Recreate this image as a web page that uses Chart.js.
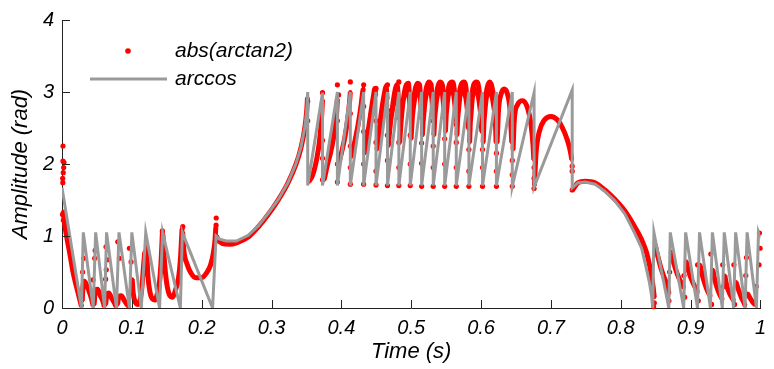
<!DOCTYPE html>
<html><head><meta charset="utf-8">
<script src="https://cdn.jsdelivr.net/npm/chart.js@4"></script>
<style>html,body{margin:0;padding:0;background:#fff;}canvas{display:block;}</style>
</head><body>
<canvas id="c" width="774" height="369"></canvas>
<script>
// ---- tick labels & texts ----
const xTickLabels = ['0','0.1','0.2','0.3','0.4','0.5','0.6','0.7','0.8','0.9','1'];
const yTickLabels = ['0','1','2','3','4'];
const legendLabels = ['abs(arctan2)', 'arccos'];
const xTitle = 'Time (s)';
const yTitle = 'Amplitude (rad)';

// ---- arccos series: [time, amplitude] vertices ----
const arccosStart = [[0,1.67],[0.0279,0],[0.0305,1.05],[0.0447,0],[0.0482,1.05],[0.0610,0],[0.0638,1.05],[0.0780,0],[0.0816,1.05],[0.0965,0],[0.1000,1.05],[0.1135,0],[0.1199,1.05],[0.1397,0],[0.1440,1.05],[0.1695,0],[0.1723,1.05],[0.2156,0],[0.2206,1.0]];
const arccosRise = [[0.2250,0.96],[0.2350,0.93],[0.2496,0.93],[0.2667,1.01],[0.2809,1.14],[0.2950,1.31],[0.3092,1.5],[0.3234,1.74],[0.3348,2.0],[0.3418,2.22],[0.3475,2.5],[0.3504,2.75],[0.3518,3.0]];
const arccosMiddle = [[0.3518,1.70],[0.3730,2.99],[0.3730,1.70],[0.3943,3.0],[0.3943,1.70],[0.4128,3.0],[0.4128,1.70],[0.4319,3.0],[0.4319,1.70],[0.4496,3.0],[0.4496,1.70],[0.4660,3.0],[0.4660,1.70],[0.4823,3.0],[0.4823,1.70],[0.4986,3.0],[0.4986,1.70],[0.5149,3.0],[0.5149,1.70],[0.5315,3.0],[0.5315,1.70],[0.5479,3.0],[0.5479,1.70],[0.5645,3.0],[0.5645,1.70],[0.5826,3.0],[0.5826,1.70],[0.6021,3.0],[0.6021,1.70],[0.6220,3.0],[0.6220,1.70],[0.6447,3.0],[0.6447,1.69],[0.6759,2.99],[0.6759,1.68],[0.7305,3.03],[0.7305,1.67]];
const arccosFall = [[0.7390,1.74],[0.7489,1.75],[0.7631,1.72],[0.7773,1.62],[0.7915,1.49],[0.8057,1.31],[0.8199,1.04],[0.8298,0.83],[0.8355,0.6],[0.8411,0.35],[0.8440,0.18],[0.8458,0]];
const arccosEnd = [[0.8475,1.05],[0.8688,0],[0.8709,1.05],[0.8901,0],[0.8929,1.05],[0.9099,0],[0.9128,1.05],[0.9284,0],[0.9312,1.05],[0.9454,0],[0.9482,1.05],[0.9617,0],[0.9645,1.05],[0.9780,0],[0.9809,1.05],[0.9943,0],[0.9972,1.05],[1.0,0.97]];

// ---- abs(arctan2) series: continuous stretches ----
const atanStart = [[0.0018,1.34],[0.004,1.15],[0.0067,0.99],[0.0113,0.75],[0.016,0.49],[0.023,0.21],[0.028,0.02]];
const atanLowTeeth = [
 [[0.0290,0.1],[0.0300,0.3],[0.0320,0.37],[0.0360,0.3],[0.0400,0.2],[0.0430,0.1],[0.0445,0.03]],
 [[0.0460,0.05],[0.0480,0.25],[0.0510,0.26],[0.0550,0.17],[0.0590,0.08],[0.0605,0.02]],
 [[0.0625,0.05],[0.0645,0.2],[0.0670,0.21],[0.0710,0.14],[0.0750,0.07],[0.0775,0.02]],
 [[0.0795,0.05],[0.0815,0.16],[0.0850,0.17],[0.0890,0.11],[0.0930,0.05],[0.0960,0.02]],
 [[0.1005,0.4],[0.1020,0.2],[0.1050,0.08],[0.1090,0.05],[0.1120,0.12],[0.1145,0.3],[0.1165,0.55],[0.1185,0.78]],
 [[0.1210,0.85],[0.1230,0.45],[0.1260,0.22],[0.1300,0.12],[0.1330,0.11],[0.1365,0.2],[0.1395,0.35],[0.1420,0.67],[0.1438,1.06]],
 [[0.1445,1.02],[0.1465,0.67],[0.1500,0.34],[0.1545,0.17],[0.1580,0.15],[0.1625,0.25],[0.1670,0.43],[0.1695,0.67],[0.1719,1.1]],
 [[0.1728,1.05],[0.1745,0.8],[0.1790,0.61],[0.1844,0.49],[0.1915,0.42],[0.2000,0.42],[0.2071,0.49],[0.2128,0.6],[0.2170,0.78],[0.2191,0.94],[0.2202,1.12]]
];
const atanRise = [[0.2212,1.0],[0.2240,0.94],[0.2300,0.895],[0.2400,0.885],[0.2500,0.905],[0.2667,0.985],[0.2809,1.125],[0.2950,1.295],[0.3092,1.495],[0.3234,1.735],[0.3348,1.99],[0.3418,2.21],[0.3475,2.49],[0.3504,2.74],[0.3515,2.92]];
const atanHighTeeth = [
 [[0.3532,1.75],[0.3590,1.85],[0.3645,2.06],[0.3688,2.33],[0.3716,2.64],[0.3730,2.89]],
 [[0.3754,1.78],[0.3801,1.99],[0.3844,2.15],[0.3891,2.38],[0.3929,2.66],[0.3943,2.9]],
 [[0.3960,2.0],[0.4000,2.15],[0.4050,2.37],[0.4090,2.62],[0.4118,2.87],[0.4128,3.0]],
 [[0.4145,2.1],[0.4190,2.3],[0.4240,2.55],[0.4280,2.8],[0.4305,3.0],[0.4315,3.05]],
 [[0.4335,2.15],[0.4375,2.4],[0.4420,2.7],[0.4460,2.95],[0.4480,3.05],[0.4492,2.95]],
 [[0.4510,2.2],[0.4545,2.5],[0.4585,2.8],[0.4620,3.0],[0.4640,3.08],[0.4655,2.9]],
 [[0.4672,2.25],[0.4700,2.55],[0.4740,2.85],[0.4775,3.05],[0.4800,3.1],[0.4818,2.85]],
 [[0.4835,2.3],[0.4860,2.65],[0.4895,2.95],[0.4930,3.1],[0.4960,3.12],[0.4980,2.8]],
 [[0.4998,2.35],[0.5020,2.7],[0.5050,3.0],[0.5090,3.12],[0.5120,3.1],[0.5142,2.75]],
 [[0.5160,2.4],[0.5180,2.75],[0.5210,3.02],[0.5250,3.14],[0.5285,3.1],[0.5308,2.7]],
 [[0.5325,2.4],[0.5345,2.8],[0.5375,3.05],[0.5415,3.14],[0.5450,3.08],[0.5472,2.65]],
 [[0.5490,2.45],[0.5510,2.85],[0.5545,3.1],[0.5585,3.14],[0.5615,3.05],[0.5638,2.6]],
 [[0.5655,2.4],[0.5675,2.85],[0.5715,3.1],[0.5755,3.14],[0.5790,3.0],[0.5818,2.5]],
 [[0.5836,2.3],[0.5856,2.8],[0.5895,3.1],[0.5935,3.14],[0.5975,3.0],[0.6010,2.45]],
 [[0.6030,2.3],[0.6050,2.75],[0.6085,3.05],[0.6125,3.14],[0.6170,3.0],[0.6205,2.6],[0.6215,2.3]],
 [[0.6230,2.3],[0.6250,2.75],[0.6290,2.98],[0.6330,3.04],[0.6375,2.98],[0.6415,2.75],[0.6440,2.3]],
 [[0.6458,2.2],[0.6475,2.6],[0.6520,2.82],[0.6596,2.88],[0.6665,2.78],[0.6715,2.55],[0.6745,2.25],[0.6755,2.06]],
 [[0.6764,1.7],[0.6787,2.15],[0.6834,2.45],[0.6905,2.61],[0.7000,2.66],[0.7095,2.61],[0.7166,2.5],[0.7236,2.33],[0.7284,2.15],[0.7298,2.06]]
];
// second, lower arcs inside the dense part of the middle section
const atanInnerArcs = [
 [[0.4525,2.35],[0.4565,2.6],[0.4605,2.85],[0.4635,2.95],[0.4650,2.8]],
 [[0.4690,2.5],[0.4730,2.75],[0.4770,2.95],[0.4800,2.98],[0.4815,2.8]],
 [[0.4850,2.6],[0.4880,2.85],[0.4920,3.0],[0.4955,3.02],[0.4975,2.9]],
 [[0.5010,2.6],[0.5040,2.85],[0.5080,3.0],[0.5115,3.0],[0.5138,2.85]],
 [[0.5172,2.6],[0.5200,2.88],[0.5240,3.02],[0.5280,3.0],[0.5302,2.85]],
 [[0.5337,2.65],[0.5365,2.9],[0.5405,3.03],[0.5445,2.98],[0.5466,2.8]],
 [[0.5502,2.7],[0.5530,2.95],[0.5575,3.03],[0.5610,2.95],[0.5632,2.75]],
 [[0.5667,2.65],[0.5700,2.95],[0.5745,3.03],[0.5785,2.9],[0.5810,2.7]],
 [[0.5848,2.6],[0.5880,2.95],[0.5925,3.03],[0.5968,2.9],[0.6000,2.65]],
 [[0.6042,2.6],[0.6075,2.92],[0.6120,3.02],[0.6165,2.9],[0.6198,2.7]]
];
const atanFall = [[0.7310,1.64],[0.7390,1.74],[0.7489,1.76],[0.7631,1.74],[0.7773,1.64],[0.7915,1.51],[0.8057,1.35],[0.8199,1.13],[0.8298,0.95],[0.8369,0.77],[0.8411,0.6],[0.8445,0.42],[0.8465,0.28],[0.8480,0.15]];
const atanEndTeeth = [
 [[0.8492,0.88],[0.8530,0.72],[0.8577,0.55],[0.8624,0.42],[0.8671,0.3],[0.8690,0.2]],
 [[0.8720,0.78],[0.8760,0.62],[0.8810,0.47],[0.8860,0.36],[0.8900,0.28]],
 [[0.8935,0.65],[0.8975,0.5],[0.9020,0.38],[0.9070,0.28],[0.9100,0.22]],
 [[0.9135,0.6],[0.9170,0.45],[0.9210,0.32],[0.9250,0.22],[0.9285,0.17]],
 [[0.9318,0.53],[0.9350,0.38],[0.9390,0.25],[0.9430,0.16],[0.9455,0.12]],
 [[0.9490,0.45],[0.9520,0.3],[0.9560,0.2],[0.9600,0.13],[0.9617,0.1]],
 [[0.9650,0.36],[0.9690,0.24],[0.9730,0.14],[0.9770,0.06],[0.9780,0.03]],
 [[0.9815,0.2],[0.9850,0.14],[0.9890,0.08],[0.9930,0.04]]
];
// isolated samples of abs(arctan2)
const atanDots = [
 [0.0014,2.25],[0.0014,2.04],[0.0028,2.02],[0.0024,1.95],[0.0018,1.88],[0.0010,1.80],[0.0012,1.74],[0.0008,1.3],[0.002,1.22],
 [0.0295,0.5],[0.0310,0.69],[0.0444,0.39],[0.0468,0.69],[0.0475,0.8],[0.0625,0.4],[0.0634,0.53],[0.0657,0.67],[0.0630,0.85],
 [0.0799,0.92],[0.0823,0.69],[0.0965,0.83],[0.0989,0.64],[0.1191,0.62],[0.1224,0.78],[0.1437,1.07],[0.1730,1.13],[0.2208,1.25],[0.2206,1.15],
 [0.3518,2.6],[0.3518,2.87],[0.3730,2.99],[0.3730,1.78],[0.3730,2.08],[0.3730,2.33],
 [0.3943,3.1],[0.3960,2.96],[0.3943,1.75],[0.3943,2.0],[0.3943,2.6],
 [0.4128,3.14],[0.4128,1.72],[0.4128,1.95],[0.4128,2.25],[0.4128,2.7],
 [0.4319,3.1],[0.4319,1.72],[0.4319,2.0],[0.4319,2.45],[0.4319,2.8],
 [0.4496,3.05],[0.4496,1.71],[0.4496,1.9],[0.4496,2.3],[0.4496,2.6],
 [0.4660,3.1],[0.4660,1.7],[0.4660,2.05],[0.4660,2.4],[0.4660,2.75],
 [0.4823,3.14],[0.4823,1.7],[0.4823,1.95],[0.4823,2.3],[0.4823,2.65],
 [0.4986,1.7],[0.4986,2.0],[0.4986,2.4],[0.4986,2.8],
 [0.5149,1.69],[0.5149,2.01],[0.5149,2.29],[0.5149,2.65],[0.5149,2.89],
 [0.5315,1.69],[0.5315,1.95],[0.5315,2.25],[0.5315,2.6],
 [0.5479,1.69],[0.5479,2.0],[0.5479,2.35],[0.5479,2.7],
 [0.5645,1.69],[0.5645,1.95],[0.5645,2.3],[0.5645,2.55],
 [0.5826,1.69],[0.5826,1.9],[0.5826,2.2],[0.5826,2.5],
 [0.6021,1.69],[0.6021,1.95],[0.6021,2.2],[0.6021,2.45],[0.6021,2.7],
 [0.6220,1.69],[0.6220,1.9],[0.6220,2.15],
 [0.6447,1.69],[0.6447,1.85],[0.6447,2.05],
 [0.6759,1.66],[0.6759,1.8],[0.6759,1.95],
 [0.7305,1.64],[0.7305,1.9],[0.7305,1.97],
 [0.8480,0.07],[0.8470,0.02],[0.8690,0.1],[0.8700,0.5],[0.8905,0.45],[0.8915,0.15],[0.9100,0.6],[0.9110,0.1],
 [0.9290,0.75],[0.9300,0.05],[0.9460,0.6],[0.9470,0.3],[0.9620,0.6],[0.9630,0.05],[0.9790,0.45],[0.9800,0.7],
 [0.9940,0.3],[0.9986,1.04],[0.9995,0.83],[0.9980,0.6]
];

// ---- helpers ----
function toPts(pairs){ return pairs.map(p => ({x:p[0], y:p[1]})); }
function joinSegs(segs){
  const out = [];
  segs.forEach((s,i) => { if (i>0) out.push({x:s[0][0], y:null}); out.push(...toPts(s)); });
  return out;
}
const RED = '#ff0000', GRAY = '#9a9a9a', AXIS = '#222';
const FONT = '"Liberation Sans", Arial, sans-serif';

const grayData = toPts([].concat(arccosStart, arccosRise, arccosMiddle, arccosFall, arccosEnd));
const redLineData = joinSegs([atanStart, ...atanLowTeeth, atanRise, ...atanHighTeeth, ...atanInnerArcs, atanFall, ...atanEndTeeth]);
const redDotData = toPts(atanDots);

const tickMarks = {
  id: 'tickMarks',
  afterDraw(chart) {
    const {ctx, chartArea: a, scales: {x, y}} = chart;
    ctx.save();
    ctx.strokeStyle = AXIS; ctx.lineWidth = 1;
    ctx.beginPath();
    x.ticks.forEach(t => { const px = Math.round(x.getPixelForValue(t.value)) + 0.5; ctx.moveTo(px, a.bottom); ctx.lineTo(px, a.bottom - 8); });
    y.ticks.forEach(t => { const py = Math.round(y.getPixelForValue(t.value)) + 0.5; ctx.moveTo(a.left, py); ctx.lineTo(a.left + 8, py); });
    ctx.stroke();
    ctx.restore();
  }
};
const innerLegend = {
  id: 'innerLegend',
  afterDraw(chart) {
    const {ctx, chartArea: a} = chart;
    ctx.save();
    ctx.fillStyle = RED;
    ctx.beginPath(); ctx.arc(a.left + 66, a.top + 31, 2.8, 0, Math.PI * 2); ctx.fill();
    ctx.strokeStyle = GRAY; ctx.lineWidth = 3;
    ctx.beginPath(); ctx.moveTo(a.left + 28, a.top + 59); ctx.lineTo(a.left + 105, a.top + 59); ctx.stroke();
    ctx.fillStyle = '#000'; ctx.font = 'italic 21px ' + FONT; ctx.textBaseline = 'middle'; ctx.textAlign = 'left';
    ctx.fillText(legendLabels[0], a.left + 113, a.top + 31);
    ctx.fillText(legendLabels[1], a.left + 113, a.top + 59);
    ctx.restore();
  }
};

new Chart(document.getElementById('c'), {
  type: 'scatter',
  data: {
    datasets: [
      { label: legendLabels[1], data: grayData, showLine: true, borderColor: GRAY, borderWidth: 3, pointRadius: 0, order: 0, tension: 0 },
      { label: legendLabels[0], data: redLineData, showLine: true, spanGaps: false, borderColor: RED, backgroundColor: RED, borderWidth: 5, pointRadius: 2, pointBorderWidth: 0, cubicInterpolationMode: 'monotone', order: 1, clip: 4 },
      { label: legendLabels[0] + ' samples', data: redDotData, showLine: false, backgroundColor: RED, borderWidth: 0, pointRadius: 2.6, order: 2, clip: 4 }
    ]
  },
  options: {
    responsive: false, devicePixelRatio: 1, animation: false, events: [],
    layout: { padding: { left: 0, top: 20, right: 7, bottom: 0 } },
    plugins: { legend: { display: false }, tooltip: { enabled: false } },
    scales: {
      x: {
        type: 'linear', min: 0, max: 1,
        afterFit(s) { s.height = 61; },
        grid: { display: true, drawOnChartArea: false, drawTicks: false },
        border: { display: true, color: AXIS, width: 1 },
        ticks: { stepSize: 0.1, padding: 8, color: '#000', font: { family: FONT, size: 20, style: 'italic' }, maxRotation: 0, callback: (v, i) => xTickLabels[i] },
        title: { display: true, text: xTitle, color: '#000', font: { family: FONT, size: 22, style: 'italic' }, padding: { top: 0, bottom: 4 } }
      },
      y: {
        type: 'linear', min: 0, max: 4,
        afterFit(s) { s.width = 62; },
        grid: { display: true, drawOnChartArea: false, drawTicks: false },
        border: { display: true, color: AXIS, width: 1 },
        ticks: { stepSize: 1, padding: 8, color: '#000', font: { family: FONT, size: 20, style: 'italic' }, callback: (v, i) => yTickLabels[i] },
        title: { display: true, text: yTitle, color: '#000', font: { family: FONT, size: 22, style: 'italic' }, padding: { top: 8, bottom: 0 } }
      }
    }
  },
  plugins: [tickMarks, innerLegend]
});
</script>
</body></html>
